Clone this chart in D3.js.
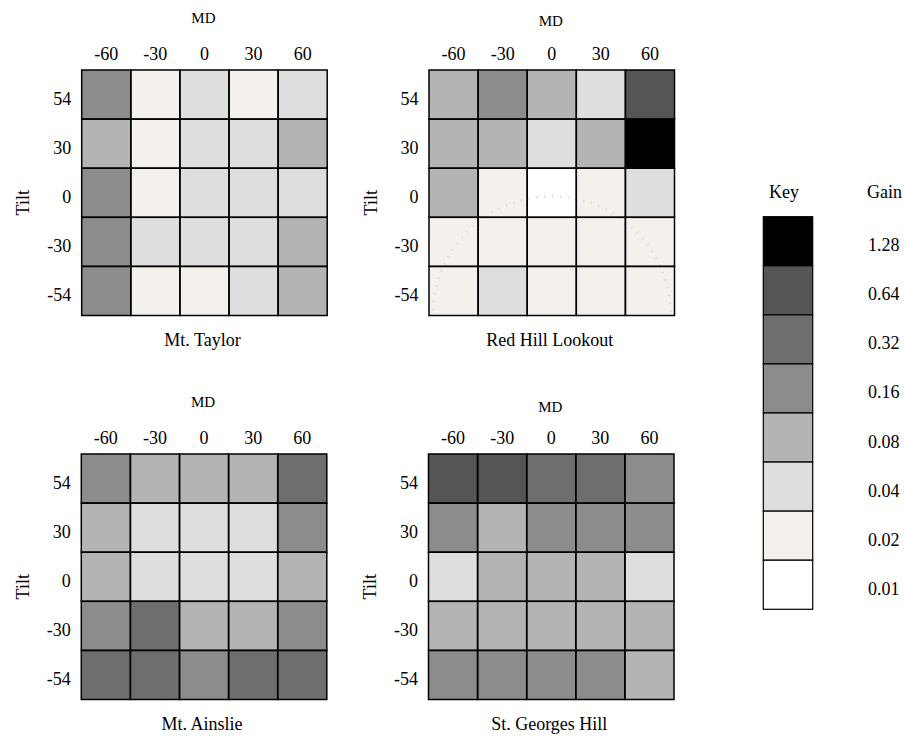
<!DOCTYPE html>
<html>
<head>
<meta charset="utf-8">
<script src="https://cdn.jsdelivr.net/npm/d3@7"></script>
<style>
  body { margin: 0; background: #fff; }
  svg { display: block; font-family: "Liberation Serif", "Times New Roman", serif; }
</style>
</head>
<body>
<svg id="chart" width="906" height="736"></svg>
<script>
const width = 906, height = 736;

// axis categories
const mdTicks = [-60, -30, 0, 30, 60];
const tiltTicks = [54, 30, 0, -30, -54];

// key levels (top of key = largest gain)
const gainLevels = [1.28, 0.64, 0.32, 0.16, 0.08, 0.04, 0.02, 0.01];
const levelColors = ["#000000", "#555555", "#6e6e6e", "#8c8c8c", "#b4b4b4", "#dedede", "#f4f0eb", "#ffffff"];

// gain per cell, rows = tilt (54 .. -54), columns = MD (-60 .. 60)
const taylorGain = [
    [0.16, 0.02, 0.04, 0.02, 0.04],
    [0.08, 0.02, 0.04, 0.04, 0.08],
    [0.16, 0.02, 0.04, 0.04, 0.04],
    [0.16, 0.04, 0.04, 0.04, 0.08],
    [0.16, 0.02, 0.02, 0.04, 0.08]
];
const redHillGain = [
    [0.08, 0.16, 0.08, 0.04, 0.64],
    [0.08, 0.08, 0.04, 0.08, 1.28],
    [0.08, 0.02, 0.01, 0.02, 0.04],
    [0.02, 0.02, 0.02, 0.02, 0.02],
    [0.02, 0.04, 0.02, 0.02, 0.02]
];
const ainslieGain = [
    [0.16, 0.08, 0.08, 0.08, 0.32],
    [0.08, 0.04, 0.04, 0.04, 0.16],
    [0.08, 0.04, 0.04, 0.04, 0.08],
    [0.16, 0.32, 0.08, 0.08, 0.16],
    [0.32, 0.32, 0.16, 0.32, 0.32]
];
const georgesGain = [
    [0.64, 0.64, 0.32, 0.32, 0.16],
    [0.16, 0.08, 0.16, 0.16, 0.16],
    [0.04, 0.08, 0.08, 0.08, 0.04],
    [0.08, 0.08, 0.08, 0.08, 0.08],
    [0.16, 0.16, 0.16, 0.16, 0.08]
];

// layout of the four panels
const gridSize = 245.5;
const panels = [
    {name: "Mt. Taylor", data: taylorGain, x: 81.7, y: 70, mdGap: 47},
    {name: "Red Hill Lookout", data: redHillGain, x: 429, y: 70, mdGap: 44, arc: true},
    {name: "Mt. Ainslie", data: ainslieGain, x: 81.3, y: 454, mdGap: 47},
    {name: "St. Georges Hill", data: georgesGain, x: 428.5, y: 454, mdGap: 42.5}
];

const svg = d3.select("#chart")
    .attr("viewBox", `0 0 ${width} ${height}`);

const color = d3.scaleOrdinal().domain(gainLevels).range(levelColors);

function styleAxis(g) {
    g.attr("font-family", null).attr("font-size", null);
    g.select(".domain").remove();
    g.selectAll("text").style("font-size", "18px").attr("fill", "#000");
}

panels.forEach(p => {
    const x = d3.scaleBand().domain(mdTicks).range([p.x, p.x + gridSize]);
    const y = d3.scaleBand().domain(tiltTicks).range([p.y, p.y + gridSize]);
    const g = svg.append("g");

    const cells = [];
    p.data.forEach((row, i) => row.forEach((v, j) => cells.push({tilt: tiltTicks[i], md: mdTicks[j], gain: v})));

    g.selectAll("rect.cell")
        .data(cells)
        .enter()
        .append("rect")
        .attr("class", "cell")
        .attr("x", d => x(d.md))
        .attr("y", d => y(d.tilt))
        .attr("width", x.bandwidth())
        .attr("height", y.bandwidth())
        .attr("fill", d => color(d.gain));

    // faint dotted arc in the Red Hill panel
    if (p.arc) {
        const cx = p.x + gridSize / 2, cy = p.y + gridSize, r = 119;
        const angles = d3.range(3, 178, 3.8);
        g.selectAll("line.arc")
            .data(angles)
            .enter()
            .append("line")
            .attr("x1", a => cx - (r - 1.3) * Math.cos(a * Math.PI / 180))
            .attr("y1", a => cy - (r - 1.3) * Math.sin(a * Math.PI / 180))
            .attr("x2", a => cx - (r + 1.3) * Math.cos(a * Math.PI / 180))
            .attr("y2", a => cy - (r + 1.3) * Math.sin(a * Math.PI / 180))
            .attr("stroke", "#c4c4c4")
            .attr("stroke-width", 0.7);
    }

    g.selectAll("rect.border")
        .data(cells)
        .enter()
        .append("rect")
        .attr("class", "border")
        .attr("x", d => x(d.md))
        .attr("y", d => y(d.tilt))
        .attr("width", x.bandwidth())
        .attr("height", y.bandwidth())
        .attr("fill", "none")
        .attr("stroke", "#000")
        .attr("stroke-width", 1.5);

    g.append("g")
        .attr("transform", `translate(0,${p.y})`)
        .call(d3.axisTop(x).tickSize(0).tickPadding(10))
        .call(styleAxis);

    g.append("g")
        .attr("transform", `translate(${p.x},0)`)
        .call(d3.axisLeft(y).tickSize(0).tickPadding(10.5))
        .call(styleAxis)
        .call(a => a.selectAll("text").attr("dy", 10));

    g.append("text")
        .attr("x", p.x + gridSize / 2 - 1)
        .attr("y", p.y - p.mdGap)
        .attr("text-anchor", "middle")
        .style("font-size", "15px")
        .text("MD");

    g.append("text")
        .attr("transform", `translate(${p.x - 52.5},${y(0) + y.bandwidth() / 2 + 10}) rotate(-90)`)
        .attr("text-anchor", "middle")
        .style("font-size", "18px")
        .text("Tilt");

    g.append("text")
        .attr("x", p.x + gridSize / 2 - 2)
        .attr("y", p.y + gridSize + 30)
        .attr("text-anchor", "middle")
        .style("font-size", "18px")
        .text(p.name);
});

// key
const keyX = 763.3, keyW = 49.4;
const ky = d3.scaleBand().domain(gainLevels).range([216.7, 609.3]);
const key = svg.append("g");

key.selectAll("rect")
    .data(gainLevels)
    .enter()
    .append("rect")
    .attr("x", keyX)
    .attr("y", d => ky(d))
    .attr("width", keyW)
    .attr("height", ky.bandwidth())
    .attr("fill", d => color(d))
    .attr("stroke", "#000")
    .attr("stroke-width", 1.2);

key.selectAll("text.val")
    .data(gainLevels)
    .enter()
    .append("text")
    .attr("class", "val")
    .attr("x", 868)
    .attr("y", d => ky(d) + ky.bandwidth() / 2 + 10)
    .style("font-size", "18px")
    .text(d => d.toFixed(2));

key.append("text")
    .attr("x", keyX + keyW / 2 - 4)
    .attr("y", 198)
    .attr("text-anchor", "middle")
    .style("font-size", "18px")
    .text("Key");

key.append("text")
    .attr("x", 867)
    .attr("y", 198)
    .style("font-size", "18px")
    .text("Gain");
</script>
</body>
</html>
